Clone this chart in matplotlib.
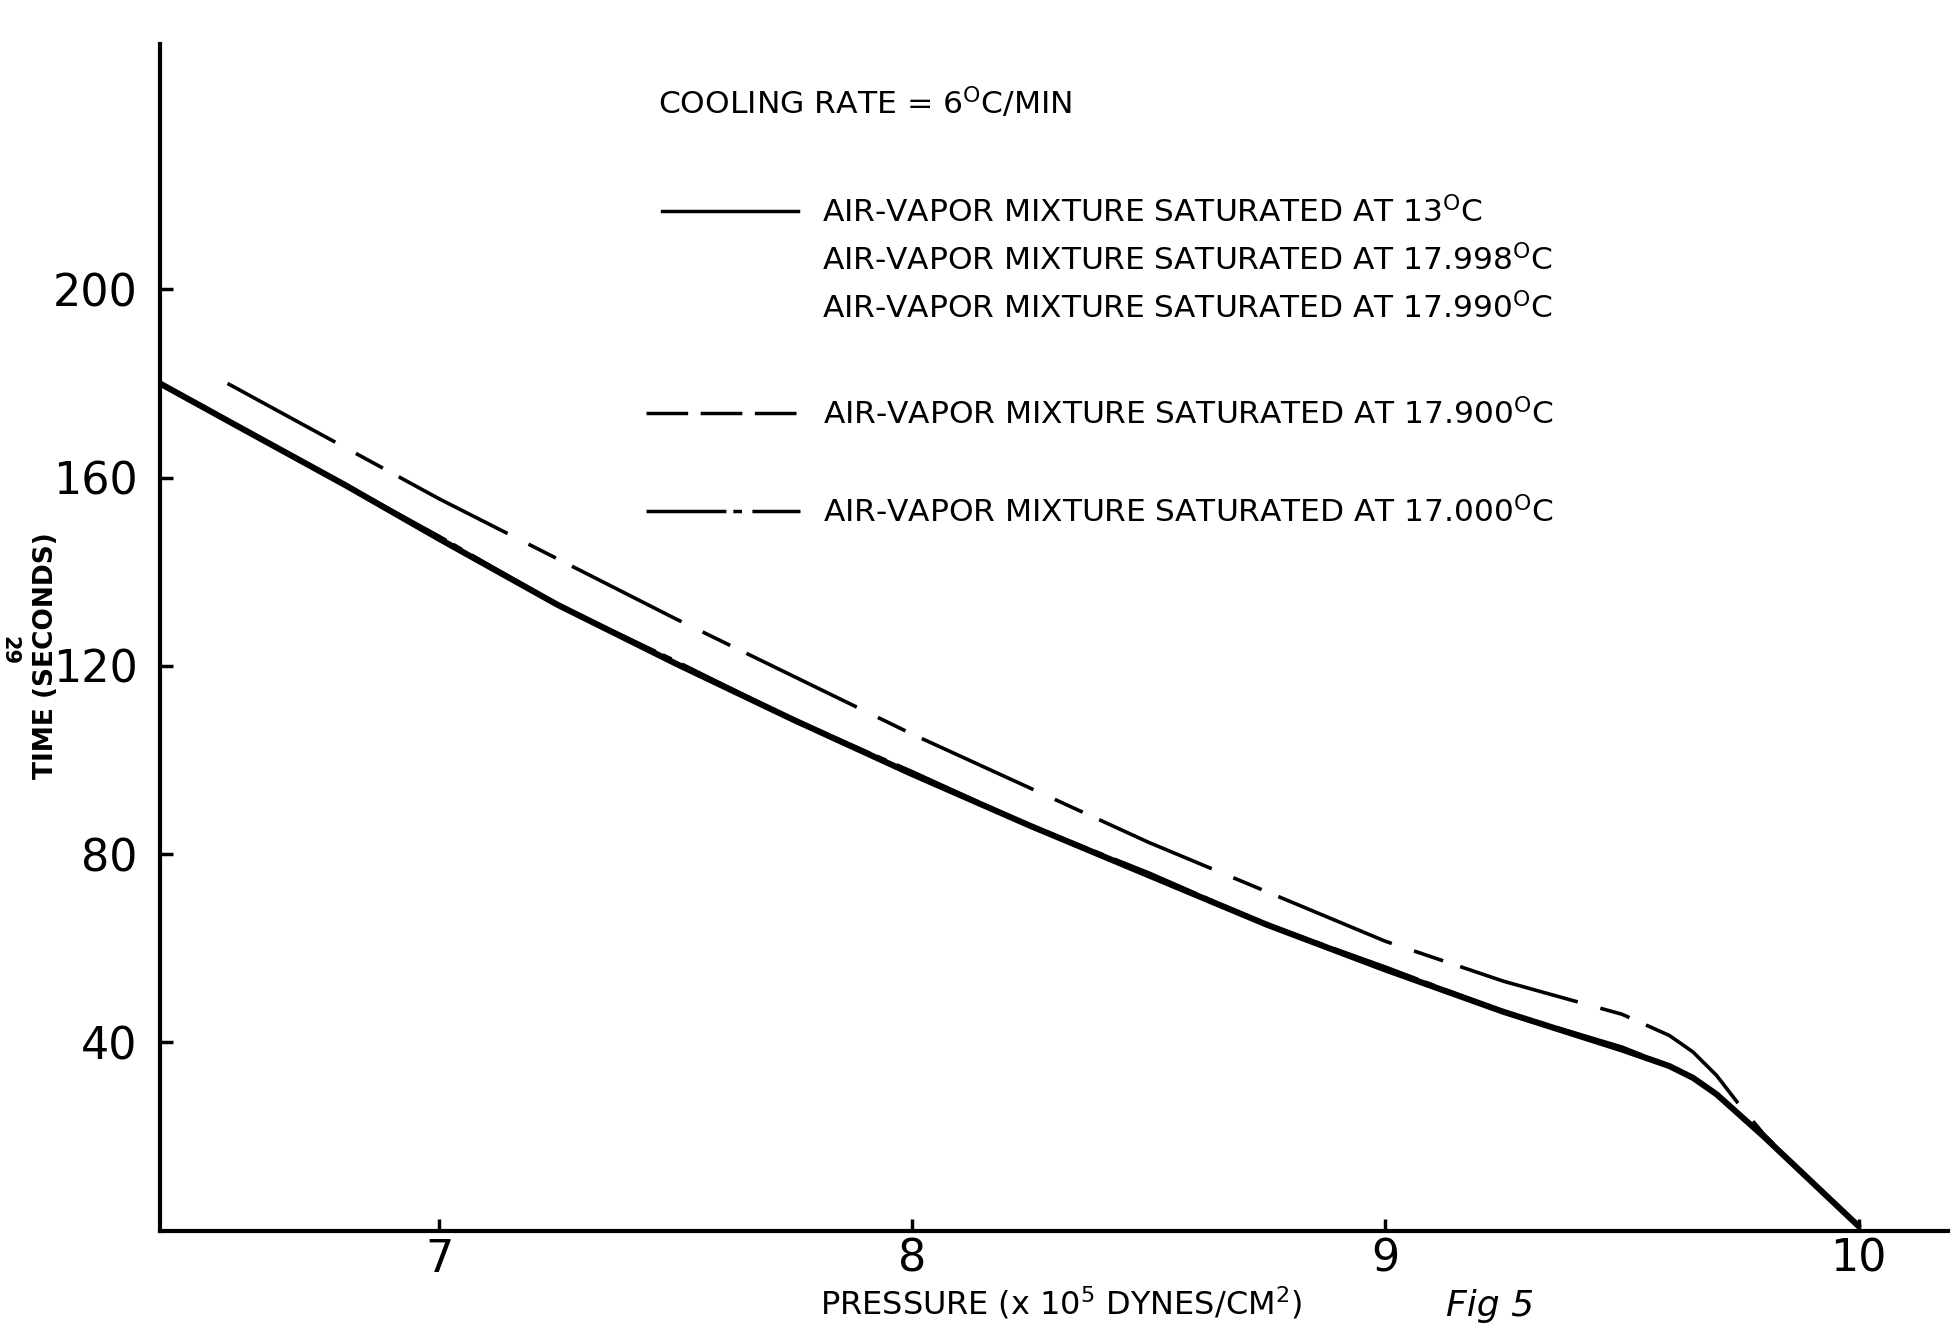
import matplotlib.pyplot as plt
from matplotlib.lines import Line2D

# Pressure (x 10^5 dynes/cm^2) and time (s)
pressure_solid = [6.41, 6.6, 6.8, 7.0, 7.25, 7.5, 7.75, 8.0, 8.25, 8.5, 8.75,
                  9.0, 9.25, 9.5, 9.6, 9.65, 9.7, 9.75, 9.8, 9.9, 10.0]
time_solid = [180, 169.5, 158.5, 147, 133, 120.5, 108.5, 97, 86, 75.5, 65,
              55.5, 46.5, 38.5, 35, 32.5, 29, 24.5, 20, 10.5, 1]

# 17.000 C curve lies on top of the solid ones
time_17000 = [180, 169.5, 158.5, 147.5, 133, 121, 108.5, 97.5, 86, 76, 65,
              56, 46.5, 39, 35, 32.5, 29, 24.5, 20, 10.5, 1]

pressure_dashed = [6.553, 7.0, 7.5, 8.0, 8.5, 9.0, 9.25, 9.5, 9.6, 9.65,
                   9.7, 9.75, 9.8, 9.9, 10.0]
time_dashed = [180, 155.5, 130, 105.5, 82.5, 61.5, 53, 46, 41.5, 38,
               33, 26.5, 20.5, 10.5, 1]

x_ticks = [7, 8, 9, 10]
y_ticks = [40, 80, 120, 160, 200]

legend_solid = ["AIR-VAPOR MIXTURE SATURATED AT 13$^{\\mathrm{O}}$C",
                "AIR-VAPOR MIXTURE SATURATED AT 17.998$^{\\mathrm{O}}$C",
                "AIR-VAPOR MIXTURE SATURATED AT 17.990$^{\\mathrm{O}}$C"]
legend_other = ["AIR-VAPOR MIXTURE SATURATED AT 17.900$^{\\mathrm{O}}$C",
                "AIR-VAPOR MIXTURE SATURATED AT 17.000$^{\\mathrm{O}}$C"]

plt.rcParams['font.family'] = ['DejaVu Sans']

fig = plt.figure(figsize=(19.59, 13.27), dpi=100)
ax = fig.add_axes([0.0816, 0.0725, 0.913, 0.894])

ax.plot(pressure_solid, time_solid, color='black', lw=4.4, solid_capstyle='round')
ax.plot(pressure_solid, time_17000, color='black', lw=2.8, dashes=(23, 2, 2.5, 3))
ax.plot(pressure_dashed, time_dashed, color='black', lw=2.6, dashes=(34, 6.5, 8.5, 5))

ax.set_xlim(6.41, 10.19)
ax.set_ylim(0, 252)
ax.set_xticks(x_ticks)
ax.set_xticklabels([str(v) for v in x_ticks])
ax.set_yticks(y_ticks)
ax.set_yticklabels([str(v) for v in y_ticks])
ax.tick_params(direction='in', length=9, width=2.5, labelsize=32)
ax.tick_params(axis='x', pad=5)
ax.tick_params(axis='y', pad=16)

for side in ['top', 'right']:
    ax.spines[side].set_visible(False)
for side in ['left', 'bottom']:
    ax.spines[side].set_linewidth(3)

ax.set_xlabel("PRESSURE (x 10$^{5}$ DYNES/CM$^{2}$)", fontsize=23)
ax.xaxis.set_label_coords(0.504, -0.061)
ax.xaxis.label.set_verticalalignment('center')
ax.set_ylabel("TIME (SECONDS)", fontsize=19, fontweight='bold')
ax.yaxis.set_label_coords(-0.0635, 0.485)
ax.yaxis.label.set_verticalalignment('center')

fig.text(0.336, 0.923, "COOLING RATE = 6$^{\\mathrm{O}}$C/MIN", fontsize=22.6,
         va='center', ha='left')
fig.text(0.005, 0.51, "29", fontsize=15, fontweight='bold', rotation=-90,
         va='center', ha='center')
fig.text(0.738, 0.003, "Fig 5", fontsize=26, style='italic', va='bottom', ha='left')

# legend: solid group
h_solid = [Line2D([], [], color='black', lw=2.5),
           Line2D([], [], color='none'),
           Line2D([], [], color='none')]
leg1 = ax.legend(h_solid, legend_solid, loc='center left',
                 bbox_to_anchor=(0.338, 0.804), bbox_transform=fig.transFigure,
                 frameon=False, fontsize=22.5, handlelength=4.35,
                 handletextpad=0.75, labelspacing=0.5, borderpad=0,
                 borderaxespad=0)
ax.add_artist(leg1)

h_other = [Line2D([], [], color='black', lw=2.5, dashes=(12, 3.6)),
           Line2D([], [], color='black', lw=2.5, dashes=(23, 2, 2.5, 3))]
ax.legend(h_other, legend_other, loc='center left',
          bbox_to_anchor=(0.330, 0.651), bbox_transform=fig.transFigure,
          frameon=False, fontsize=22.5, handlelength=4.9,
          handletextpad=0.75, labelspacing=2.1, borderpad=0,
          borderaxespad=0)

fig.savefig("out.png", dpi=100)
